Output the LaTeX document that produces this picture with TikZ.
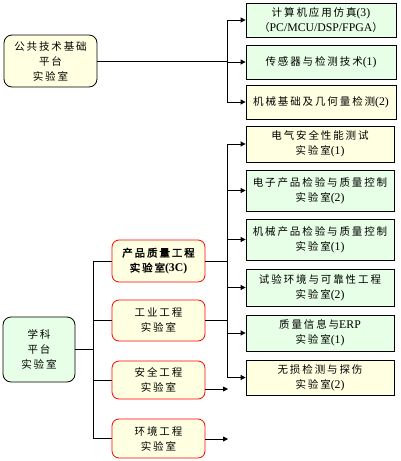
\documentclass[tikz,border=0pt]{standalone}
\usepackage{fontspec}
\setmainfont[Scale=1.12]{Liberation Serif}
\newfontfamily\cjk[LetterSpace=18,AutoFakeBold=2]{Noto Sans CJK SC}
\usetikzlibrary{arrows.meta}
\newcommand{\zh}[1]{{\cjk #1}}
\definecolor{yel}{HTML}{FFFFE1}
\definecolor{grn}{HTML}{E6FFE6}
\tikzset{
  lnk/.style={line width=0.8pt},
  arr/.style={line width=0.8pt,-{Triangle[length=5pt,width=5pt]}},
  basebox/.style={draw,line width=0.8pt,align=center,inner sep=0pt,
    font=\fontsize{10.5}{15}\selectfont},
  rbox/.style={basebox,fill=grn,minimum width=148pt},
  lbox/.style={basebox,rounded corners=8pt},
  mbox/.style={basebox,draw=red,fill=yel,rounded corners=7pt,minimum width=93pt},
  boldtext/.style={font=\fontsize{10.5}{15}\selectfont\bfseries},
}
\begin{document}
\begin{tikzpicture}[x=1pt,y=-1pt]
\useasboundingbox (0,0) rectangle (401,461);
% top group
\node[lbox,fill=yel,minimum width=93pt,minimum height=52pt] (pub) at (50.5,61)
  {\zh{公共技术基础}\\\zh{平台}\\\zh{实验室}};
\node[rbox,minimum width=150pt,minimum height=34pt] (r1) at (321,20)
  {\zh{计算机应用仿真}(3)\\\zh{（}PC/MCU/DSP/FPGA\zh{）}};
\node[rbox,minimum width=150pt,minimum height=34pt] (r2) at (321,62)
  {\zh{传感器与检测技术}(1)};
\node[rbox,fill=yel,minimum width=150pt,minimum height=34pt] (r3) at (321,102)
  {\zh{机械基础及几何量检测}(2)};
\coordinate (j1) at (227,61);
\draw[lnk] (pub.east) -- (j1);
\draw[lnk] (j1 |- r1.west) -- (j1 |- r3.west);
\foreach \n in {r1,r2,r3} \draw[arr] (j1 |- \n.west) -- (\n.west);
% second group
\node[rbox,fill=yel,minimum height=36pt] (e1) at (320,144) {\zh{电气安全性能测试}\\\zh{实验室}(1)};
\node[rbox,minimum height=41pt] (e2) at (320,190.5) {\zh{电子产品检验与质量控制}\\\zh{实验室}(2)};
\node[rbox,minimum height=41pt] (e3) at (320,239.5) {\zh{机械产品检验与质量控制}\\\zh{实验室}(1)};
\node[rbox,minimum height=37pt] (e4) at (320,287.5) {\zh{试验环境与可靠性工程}\\\zh{实验室}(2)};
\node[rbox,minimum height=36pt] (e5) at (320,333) {\zh{质量信息与}ERP\\\zh{实验室}(1)};
\node[rbox,fill=yel,minimum height=35pt] (e6) at (320,377.5) {\zh{无损检测与探伤}\\\zh{实验室}(2)};
% left
\node[lbox,fill=grn,minimum width=72pt,minimum height=65pt] (xk) at (39,349.5)
  {\zh{学科}\\\zh{平台}\\\zh{实验室}};
\node[mbox,boldtext,minimum height=42pt] (m1) at (158.5,261) {\zh{产品质量工程}\\\zh{实验室}(3C)};
\node[mbox,minimum height=41pt] (m2) at (158.5,320.5) {\zh{工业工程}\\\zh{实验室}};
\node[mbox,minimum height=38pt] (m3) at (158.5,380) {\zh{安全工程}\\\zh{实验室}};
\node[mbox,minimum height=39pt] (m4) at (158.5,438.5) {\zh{环境工程}\\\zh{实验室}};
\coordinate (j0) at (93,350);
\draw[lnk] (xk.east) -- (j0 |- xk.east);
\draw[lnk] (j0 |- m1.west) -- (j0 |- m4.west);
\foreach \n in {m1,m2,m3,m4} \draw[lnk] (j0 |- \n.west) -- (\n.west);
\coordinate (j2) at (227,200);
\draw[lnk] (m1.east) -- (j2 |- m1.east);
\draw[lnk] (m2.east) -- (j2 |- m2.east);
\draw[lnk] (j2 |- e1.west) -- (j2 |- e6.west);
\foreach \n in {e1,e2,e3,e4,e5,e6} \draw[arr] (j2 |- \n.west) -- (\n.west);
\coordinate (a3) at (228,389);
\coordinate (a4) at (228,439);
\draw[arr] (m3.east |- a3) -- (a3);
\draw[arr] (m4.east |- a4) -- (a4);
\end{tikzpicture}
\end{document}
